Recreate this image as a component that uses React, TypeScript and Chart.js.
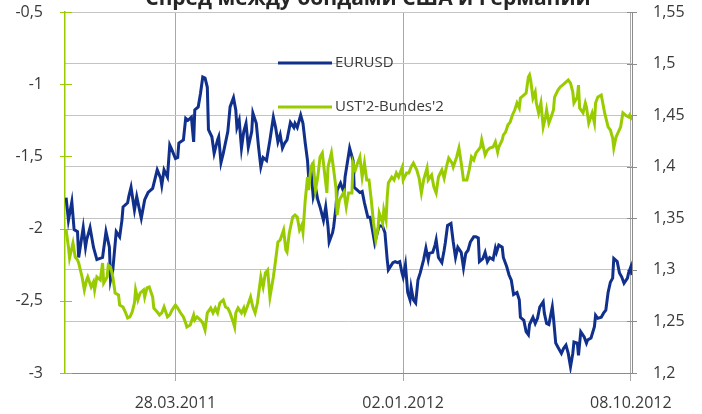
import React, { useEffect, useRef } from "react";
import { Chart, registerables } from "chart.js";

Chart.register(...registerables);

const TITLE = "Спред между бондами США и Германии";
const X_TICKS = [97, 297, 497];
const X_LABELS = ["28.03.2011", "02.01.2012", "08.10.2012"];
const SERIES_NAMES = ["EURUSD", "UST'2-Bundes'2"];
const COLORS = ["#10308c", "#99cc00"];

// EURUSD (right axis), business-day index
const eurIdx = [1,3,6,8,11,12,16,18,19,22,25,28,33,36,39,40,42,45,48,50,51,55,56,58,61,63,67,70,73,77,81,84,85,87,90,92,94,97,99,100,104,106,108,111,113,114,117,119,121,123,125,126,129,131,134,135,137,139,143,145,148,150,151,153,155,157,159,161,164,165,168,170,172,174,177,180,183,185,187,189,191,193,195,198,201,202,204,207,209,211,213,214,216,218,220,222,224,227,229,231,232,235,236,238,239,242,245,246,250,253,254,257,259,261,263,266,268,270,272,275,276,279,281,283,284,288,290,292,294,296,297,299,301,303,304,306,308,310,312,315,317,319,320,323,325,326,328,331,333,334,336,339,341,343,345,348,350,352,354,356,359,361,363,364,367,369,371,373,376,378,379,381,384,385,388,390,392,394,397,399,400,403,405,407,408,411,413,415,417,420,421,423,425,428,429,431,433,436,438,440,442,444,446,447,450,451,453,456,458,459,462,465,466,468,471,473,475,477,479,481,482,485,487,489,491,494,495,497,498];
const eurVal = [1.370,1.348,1.366,1.339,1.337,1.312,1.341,1.322,1.329,1.341,1.322,1.310,1.312,1.337,1.322,1.290,1.300,1.337,1.332,1.348,1.361,1.365,1.371,1.380,1.358,1.371,1.350,1.368,1.375,1.379,1.397,1.389,1.382,1.397,1.390,1.421,1.416,1.408,1.409,1.423,1.426,1.447,1.445,1.448,1.424,1.455,1.458,1.471,1.487,1.486,1.477,1.436,1.429,1.413,1.426,1.429,1.404,1.413,1.434,1.458,1.467,1.455,1.438,1.445,1.418,1.434,1.442,1.419,1.434,1.452,1.442,1.419,1.400,1.409,1.406,1.426,1.448,1.438,1.424,1.431,1.418,1.423,1.426,1.443,1.438,1.442,1.438,1.450,1.442,1.423,1.406,1.390,1.397,1.371,1.380,1.368,1.361,1.348,1.361,1.342,1.327,1.336,1.342,1.361,1.377,1.384,1.375,1.390,1.418,1.406,1.380,1.377,1.375,1.376,1.365,1.351,1.351,1.339,1.326,1.339,1.343,1.342,1.336,1.310,1.300,1.307,1.308,1.307,1.308,1.297,1.293,1.305,1.278,1.271,1.283,1.271,1.268,1.290,1.297,1.310,1.321,1.310,1.316,1.317,1.324,1.329,1.312,1.307,1.319,1.326,1.343,1.345,1.327,1.312,1.322,1.317,1.302,1.316,1.319,1.327,1.332,1.332,1.331,1.308,1.311,1.317,1.308,1.312,1.310,1.321,1.317,1.324,1.322,1.312,1.303,1.295,1.290,1.276,1.278,1.271,1.254,1.251,1.240,1.237,1.247,1.254,1.248,1.253,1.264,1.269,1.258,1.248,1.247,1.264,1.254,1.229,1.225,1.219,1.224,1.227,1.219,1.206,1.219,1.230,1.229,1.217,1.240,1.235,1.229,1.232,1.234,1.245,1.256,1.253,1.254,1.258,1.261,1.278,1.288,1.292,1.311,1.308,1.297,1.293,1.287,1.292,1.297,1.303,1.295];

// UST'2 - Bundes'2 spread (left axis)
const spIdx = [1,3,4,7,9,11,12,15,17,19,20,23,25,26,28,31,33,34,37,38,40,42,44,47,48,51,53,55,57,59,61,62,64,66,69,70,72,74,77,78,81,83,85,87,90,92,94,97,99,101,104,106,107,110,113,114,116,119,121,123,125,128,130,132,134,136,139,141,143,145,148,149,150,152,155,157,158,160,163,165,167,169,172,174,176,178,180,183,185,187,189,192,194,195,197,200,202,204,206,208,209,211,213,214,216,218,220,222,224,226,228,230,231,234,236,238,239,241,245,247,249,252,253,255,257,259,261,263,265,267,269,271,273,275,276,279,280,282,283,284,287,289,291,293,296,297,300,302,304,306,309,311,313,315,318,319,322,324,326,328,331,333,335,337,340,341,344,346,348,350,353,355,357,359,361,363,365,366,369,371,373,376,378,380,381,384,385,387,389,391,393,395,397,399,400,403,405,407,408,409,411,413,414,416,418,420,422,423,425,427,429,430,433,435,437,439,442,444,446,447,450,451,452,455,457,458,460,463,465,466,468,471,473,474,477,479,481,482,484,486,488,490,492,495,496,498];
const spVal = [-2.010,-2.127,-2.204,-2.100,-2.197,-2.217,-2.238,-2.335,-2.425,-2.356,-2.335,-2.404,-2.370,-2.425,-2.335,-2.356,-2.238,-2.377,-2.335,-2.252,-2.266,-2.335,-2.446,-2.460,-2.529,-2.543,-2.578,-2.619,-2.612,-2.578,-2.515,-2.425,-2.494,-2.446,-2.425,-2.474,-2.411,-2.404,-2.474,-2.550,-2.578,-2.598,-2.584,-2.543,-2.612,-2.598,-2.564,-2.529,-2.550,-2.578,-2.612,-2.654,-2.681,-2.668,-2.598,-2.633,-2.612,-2.633,-2.654,-2.702,-2.584,-2.550,-2.584,-2.550,-2.584,-2.515,-2.494,-2.543,-2.550,-2.584,-2.654,-2.681,-2.584,-2.550,-2.584,-2.550,-2.584,-2.543,-2.474,-2.543,-2.584,-2.515,-2.335,-2.404,-2.307,-2.287,-2.474,-2.335,-2.217,-2.093,-2.079,-2.010,-2.148,-2.162,-2.030,-1.920,-1.906,-1.920,-2.010,-1.975,-2.024,-1.802,-1.643,-1.733,-1.573,-1.546,-1.733,-1.643,-1.504,-1.476,-1.615,-1.753,-1.573,-1.476,-1.594,-1.719,-1.906,-1.802,-1.747,-1.850,-1.753,-1.753,-1.546,-1.594,-1.546,-1.504,-1.643,-1.546,-1.663,-1.663,-1.802,-1.961,-2.079,-1.989,-1.892,-1.961,-1.871,-1.940,-1.781,-1.684,-1.643,-1.663,-1.615,-1.643,-1.580,-1.663,-1.615,-1.615,-1.573,-1.546,-1.594,-1.650,-1.753,-1.663,-1.580,-1.663,-1.629,-1.712,-1.753,-1.643,-1.594,-1.650,-1.573,-1.511,-1.546,-1.573,-1.504,-1.442,-1.546,-1.663,-1.663,-1.594,-1.504,-1.525,-1.476,-1.456,-1.435,-1.386,-1.490,-1.456,-1.442,-1.435,-1.400,-1.470,-1.435,-1.386,-1.352,-1.331,-1.283,-1.262,-1.213,-1.179,-1.130,-1.165,-1.096,-1.075,-1.061,-0.950,-0.936,-0.971,-1.096,-1.054,-1.130,-1.199,-1.130,-1.296,-1.227,-1.179,-1.269,-1.227,-1.179,-1.089,-1.040,-1.019,-1.006,-0.992,-0.971,-0.992,-1.054,-1.130,-1.089,-1.006,-1.165,-1.199,-1.130,-1.158,-1.269,-1.199,-1.269,-1.130,-1.089,-1.075,-1.158,-1.199,-1.296,-1.317,-1.373,-1.442,-1.366,-1.331,-1.296,-1.199,-1.213,-1.227,-1.213,-1.248];

const TEXT_COLOR = "#3a3a3a";
const GRID_COLOR = "#c4c4c4";
const AXIS_COLOR = "#8c8c8c";

const fmt = (v: number) => String(Math.round(v * 100) / 100).replace(".", ",");

const overlay = {
  id: "overlay",
  beforeDatasetsDraw(chart: any) {
    const { ctx, chartArea: a, scales } = chart;
    ctx.save();
    ctx.lineWidth = 1;
    ctx.strokeStyle = COLORS[1];
    scales.yL.ticks.forEach((t: any) => {
      const y = Math.round(scales.yL.getPixelForValue(t.value)) + 0.5;
      ctx.beginPath();
      ctx.moveTo(a.left - 5, y);
      ctx.lineTo(a.left + 7, y);
      ctx.stroke();
    });
    ctx.strokeStyle = AXIS_COLOR;
    scales.yR.ticks.forEach((t: any) => {
      const y = Math.round(scales.yR.getPixelForValue(t.value)) + 0.5;
      ctx.beginPath();
      ctx.moveTo(a.right - 5, y);
      ctx.lineTo(a.right + 5, y);
      ctx.stroke();
    });
    ctx.restore();
  },
  afterDraw(chart: any) {
    const { ctx, chartArea: a } = chart;
    ctx.save();
    ctx.font = 'bold 21px "Open Sans"';
    ctx.fillStyle = "#262626";
    ctx.textAlign = "center";
    ctx.textBaseline = "alphabetic";
    ctx.fillText(TITLE, 368, 5);
    ctx.font = '15px "Open Sans"';
    ctx.textAlign = "left";
    ctx.textBaseline = "middle";
    SERIES_NAMES.forEach((name, i) => {
      const y = a.top + 51 + i * 44;
      ctx.strokeStyle = COLORS[i];
      ctx.lineWidth = 3;
      ctx.beginPath();
      ctx.moveTo(a.left + 213, y);
      ctx.lineTo(a.left + 267, y);
      ctx.stroke();
      ctx.fillStyle = TEXT_COLOR;
      ctx.fillText(name, a.left + 270, y);
    });
    ctx.restore();
  },
};

export default function App() {
  const ref = useRef<HTMLCanvasElement>(null);
  useEffect(() => {
    document.body.style.margin = "0";
    Chart.defaults.font.family = '"Open Sans"';
    const chart = new Chart(ref.current!, {
      type: "line",
      data: {
        datasets: [
          {
            label: SERIES_NAMES[0],
            data: eurIdx.map((x, i) => ({ x, y: eurVal[i] })),
            yAxisID: "yR",
            borderColor: COLORS[0],
            borderWidth: 3,
            pointRadius: 0,
            tension: 0,
            order: 2,
          },
          {
            label: SERIES_NAMES[1],
            data: spIdx.map((x, i) => ({ x, y: spVal[i] })),
            yAxisID: "yL",
            borderColor: COLORS[1],
            borderWidth: 3,
            pointRadius: 0,
            tension: 0,
            order: 1,
          },
        ],
      },
      plugins: [overlay],
      options: {
        animation: false,
        responsive: false,
        events: [],
        layout: { padding: { top: 12, left: 0, right: 0, bottom: 0 } },
        plugins: { legend: { display: false }, tooltip: { enabled: false }, title: { display: false } },
        scales: {
          x: {
            type: "linear",
            min: 0,
            max: 498,
            afterBuildTicks: (s: any) => {
              s.ticks = X_TICKS.map((v) => ({ value: v }));
            },
            afterFit: (s: any) => {
              s.height = 41;
            },
            ticks: {
              autoSkip: false,
              maxRotation: 0,
              padding: 13,
              color: TEXT_COLOR,
              font: { size: 16 },
              callback: (v: any) => X_LABELS[X_TICKS.indexOf(Number(v))] ?? "",
            },
            grid: { color: "#a8a8a8", tickColor: "#a8a8a8", tickLength: 8, drawOnChartArea: true },
            border: { color: AXIS_COLOR, width: 1 },
          },
          yL: {
            position: "left",
            min: -3,
            max: -0.5,
            afterFit: (s: any) => {
              s.width = 65;
            },
            ticks: { stepSize: 0.5, padding: 0, color: TEXT_COLOR, font: { size: 16 }, callback: (v: any) => fmt(Number(v)) },
            grid: { drawOnChartArea: false, tickColor: "rgba(0,0,0,0)", tickLength: 22 },
            border: { color: COLORS[1], width: 1.5 },
          },
          yR: {
            position: "right",
            min: 1.2,
            max: 1.55,
            afterFit: (s: any) => {
              s.width = 70;
            },
            ticks: { stepSize: 0.05, padding: 0, color: TEXT_COLOR, font: { size: 16 }, callback: (v: any) => fmt(Number(v)) },
            grid: { color: GRID_COLOR, tickColor: "rgba(0,0,0,0)", tickLength: 21, drawOnChartArea: true },
            border: { color: AXIS_COLOR, width: 1 },
          },
        },
      },
    });
    return () => chart.destroy();
  }, []);
  return (
    <div style={{ width: 702, height: 414 }}>
      <canvas ref={ref} width={702} height={414} style={{ display: "block" }} />
    </div>
  );
}
